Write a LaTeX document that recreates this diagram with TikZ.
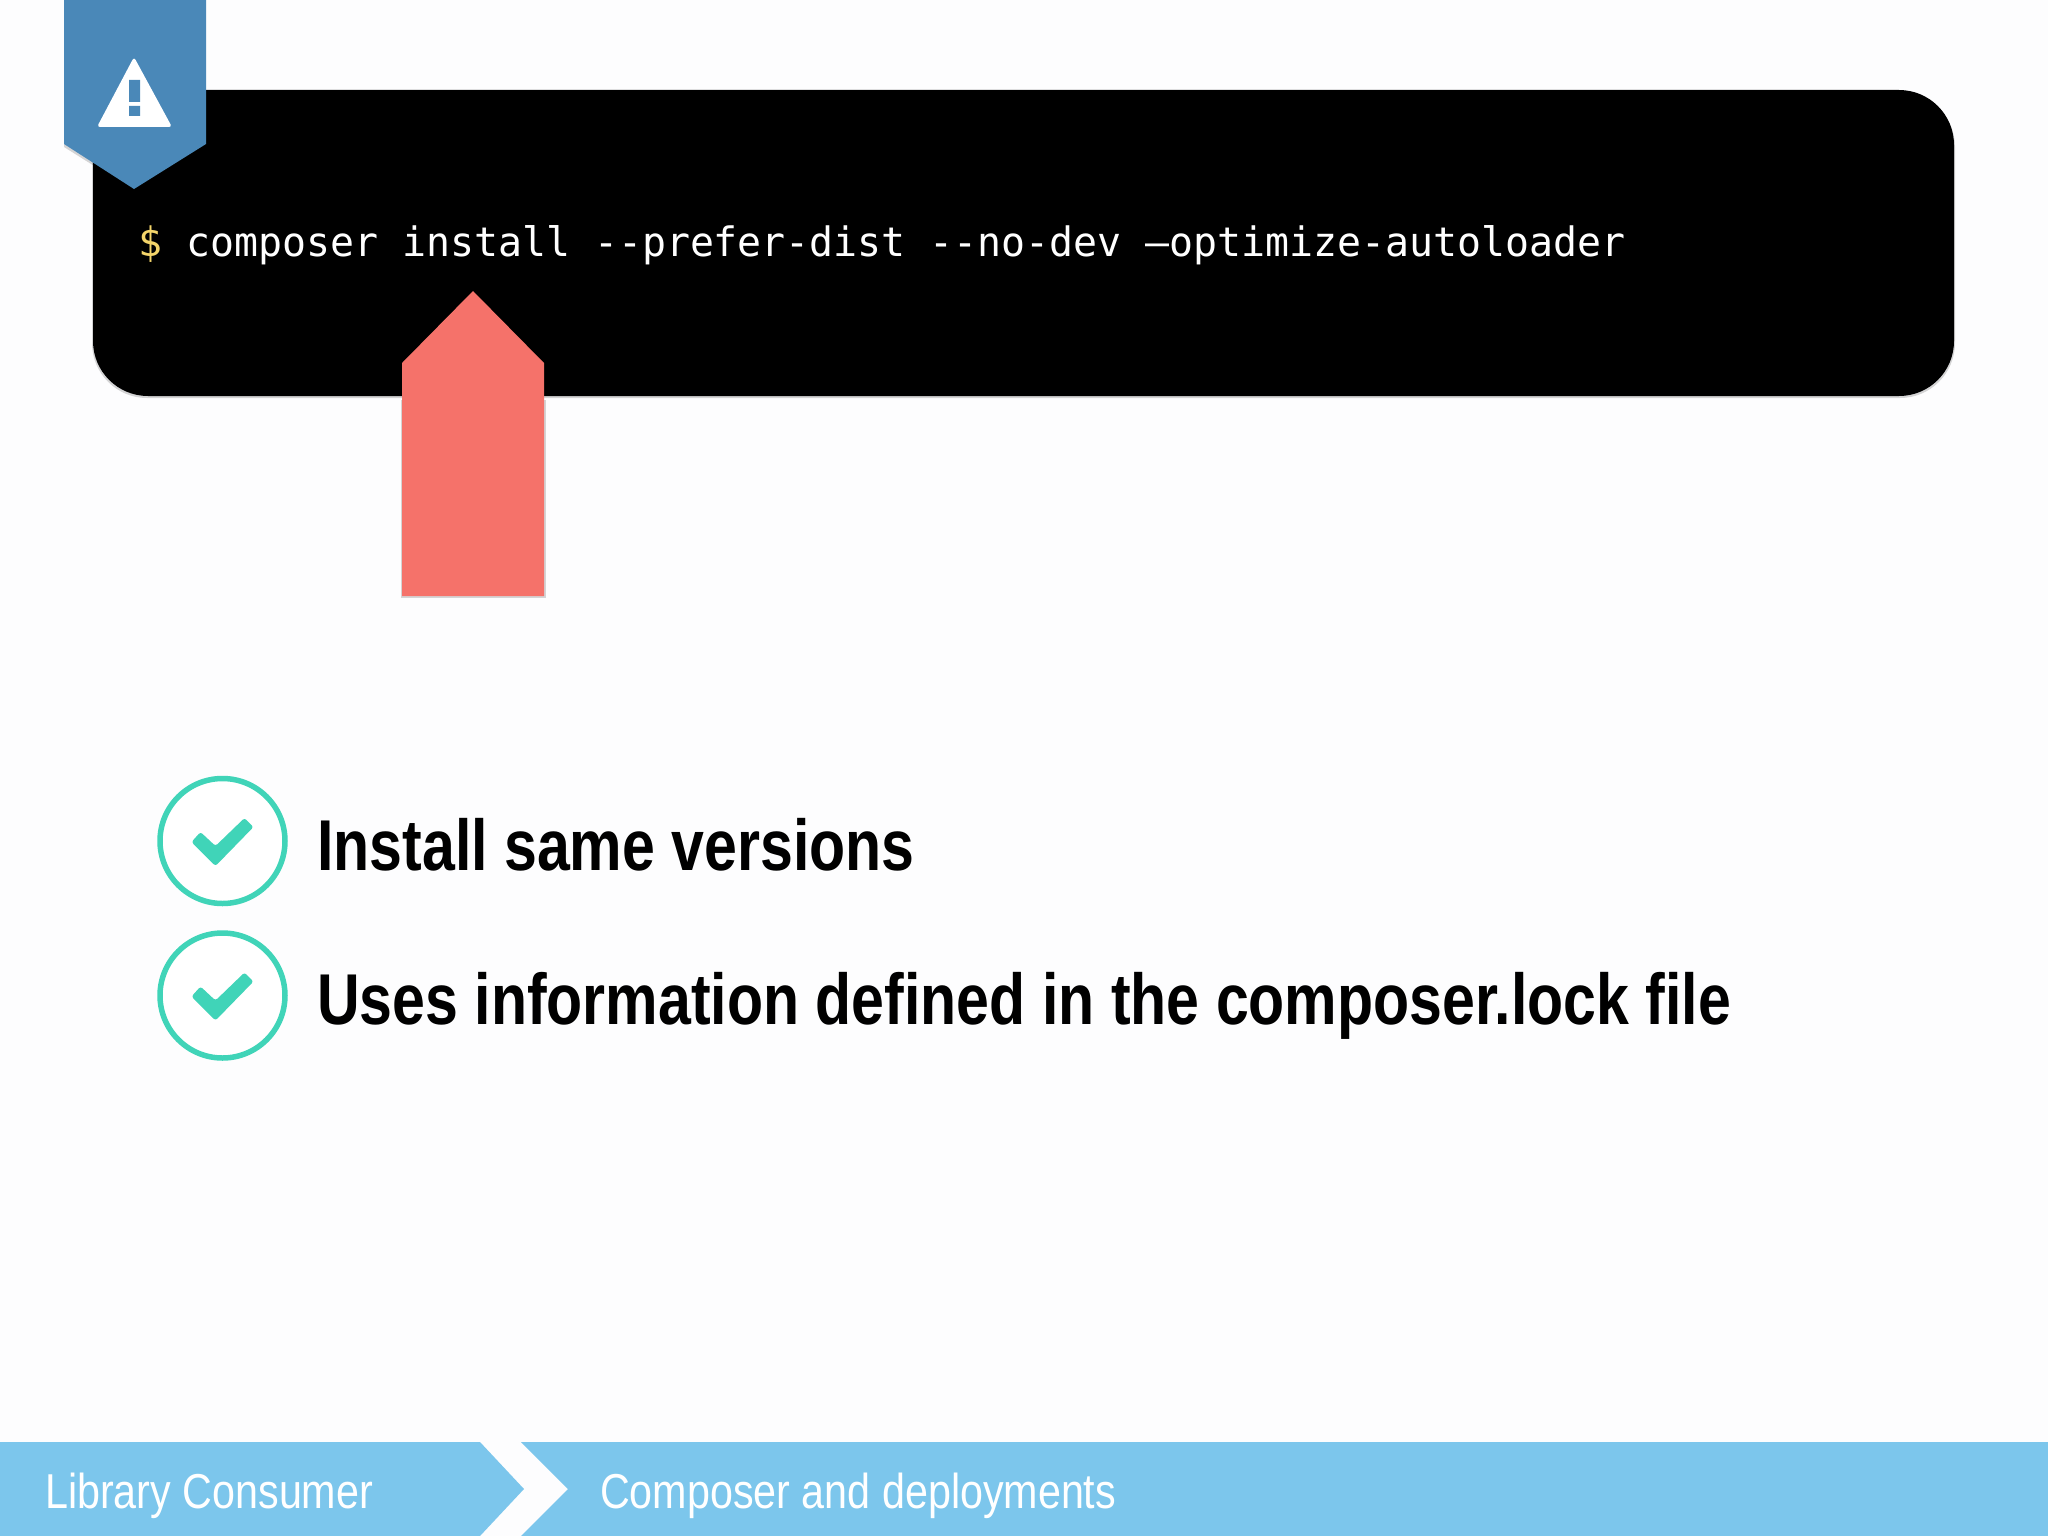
\documentclass[tikz,border=0pt]{standalone}
\usepackage{fontspec}
\setmainfont{Liberation Sans}
\newfontfamily\codefont[FakeStretch=0.984]{DejaVu Sans Mono}
\newfontfamily\headfont[FakeStretch=0.82]{Liberation Sans}
\newfontfamily\crumbfont[FakeStretch=0.842]{Liberation Sans}
\definecolor{band}{HTML}{7CC6EC}
\definecolor{teal}{HTML}{40D4B8}
\definecolor{salmon}{HTML}{F5726A}
\definecolor{ribbon}{HTML}{4A88B8}
\definecolor{dollar}{HTML}{F4D56A}
\definecolor{paper}{HTML}{FDFDFE}
\tikzset{x=1pt,y=-1pt,
 code/.style={font=\codefont\fontsize{40.5}{46}\selectfont,text=white,anchor=base west,inner sep=0},
 claim/.style={font=\headfont\bfseries\fontsize{72}{80}\selectfont,anchor=base west,inner sep=0,text=black},
 crumb/.style={font=\crumbfont\fontsize{49}{56}\selectfont,anchor=base west,inner sep=0,text=white},
 ring/.style={circle,draw=teal,line width=5.5pt,fill=white,minimum size=125pt,inner sep=0,outer sep=0},
 softshade/.style={fill=black,opacity=0.16}}
\begin{document}
\begin{tikzpicture}
\useasboundingbox (0,0) rectangle (2048,1536);
\fill[paper] (0,0) rectangle (2048,1536);
\fill[softshade,rounded corners=55pt] (92,92) rectangle (1955,398);
\fill[black,rounded corners=55pt] (93,90) rectangle (1954,396);
\node[code,text=dollar] (d) at (138,256) {\$};
\node[code] (c) at (186,256) {composer install --prefer-dist --no-dev –optimize-autoloader};
\fill[softshade] (64,147) -- (134,191) -- (134,180) -- (64,140) -- cycle;
\fill[ribbon] (64,0) -- (206,0) -- (206,144) -- (134,189) -- (64,144) -- cycle;
\fill[white,rounded corners=3pt] (134,57) -- (172,127) -- (97,127) -- cycle;
\fill[ribbon] (129,80) rectangle (140,102) (129,106) rectangle (140,116);
\fill[softshade] (401,598) -- (401,400) -- (545.5,400) -- (545.5,598) -- cycle;
\fill[salmon] (402,596) -- (402,363) -- (473,291) -- (544,363) -- (544,596) -- cycle;
\node[ring] (r1) at (222.5,841) {};
\node[ring] (r2) at (222.5,995.5) {};
\foreach \n in {r1,r2}{
 \fill[teal,rounded corners=2.5pt] ([shift={(-31,1)}]\n.center) -- ([shift={(-7,25)}]\n.center) -- ([shift={(31,-14)}]\n.center) -- ([shift={(22,-23)}]\n.center) -- ([shift={(-7,5)}]\n.center) -- ([shift={(-22,-9)}]\n.center) -- cycle;
}
\node[claim] (t1) at (317,870) {Install same versions};
\node[claim] (t2) at (317,1024) {Uses information defined in the composer.lock file};
\fill[band] (0,1442) -- (480,1442) -- (524,1489) -- (480,1536) -- (0,1536) -- cycle;
\fill[band] (521,1442) -- (2048,1442) -- (2048,1536) -- (521,1536) -- (568,1489) -- cycle;
\node[crumb] (b1) at (45,1508) {Library Consumer};
\node[crumb] (b2) at (600,1508) {Composer and deployments};
\end{tikzpicture}
\end{document}
